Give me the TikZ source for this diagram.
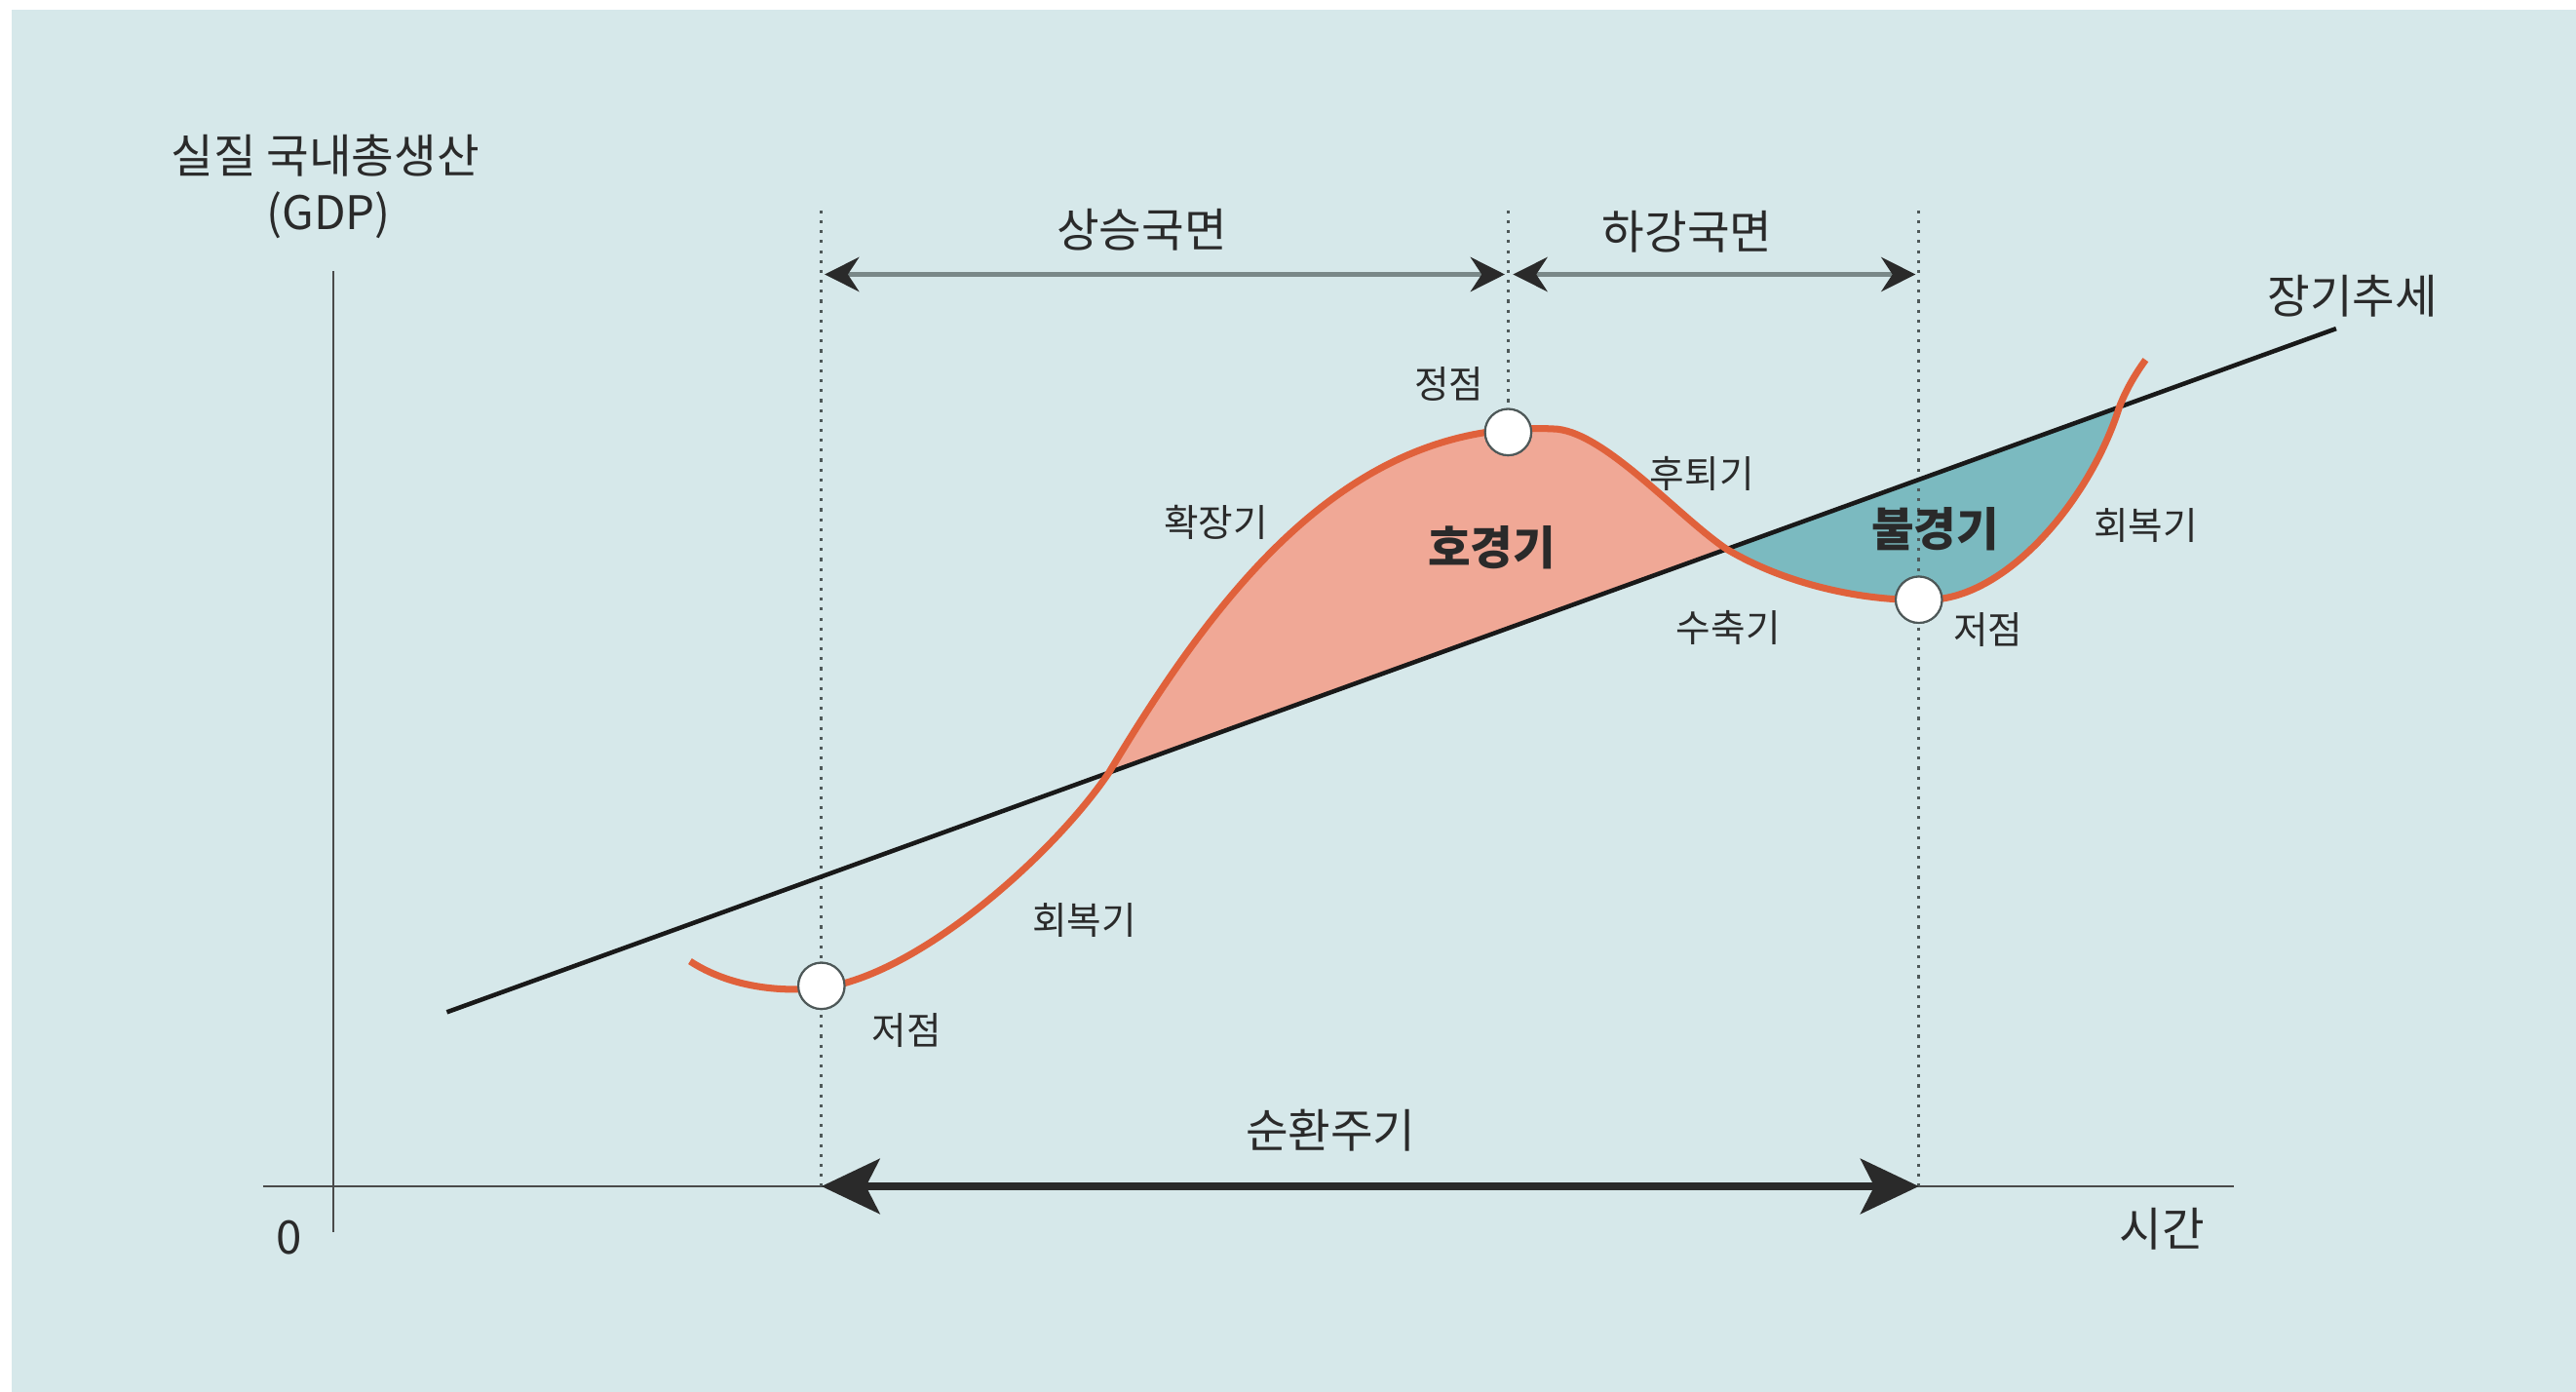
\documentclass[tikz,border=0pt]{standalone}
\usepackage{fontspec}
\setmainfont{Noto Sans CJK KR}
\usetikzlibrary{arrows.meta, positioning}
\definecolor{bcpanel}{HTML}{D6E8EA}
\definecolor{bcink}{HTML}{2A2A2A}
\definecolor{bcaxis}{HTML}{4A4A4A}
\definecolor{bcguide}{HTML}{4E5858}
\definecolor{bcspan}{HTML}{7A8888}
\definecolor{bccurve}{HTML}{E0613B}
\definecolor{bcboom}{HTML}{F0A896}
\definecolor{bcslump}{HTML}{7BBAC0}

\begin{document}
\begin{tikzpicture}[x=0.016856cm, y=-0.016856cm,
  every node/.style={font=\fontsize{11pt}{13pt}\selectfont, text=bcink, inner sep=1pt},
  title/.style={font=\fontsize{13.5pt}{16pt}\selectfont},
  boom/.style={font=\fontsize{13.5pt}{16pt}\selectfont\bfseries},
  axis/.style={draw=bcaxis, line width=0.7pt},
  guide/.style={draw=bcguide, dotted, line width=0.9pt},
  span/.style={{Stealth[length=10pt,width=10pt,color=bcink]}-{Stealth[length=10pt,width=10pt,color=bcink]},
               draw=bcspan, line width=1.6pt},
  period/.style={{Stealth[length=17pt,width=16pt,inset=4pt]}-{Stealth[length=17pt,width=16pt,inset=4pt]},
                 draw=bcink, line width=2.3pt},
  trend/.style={draw=black!90, line width=1.3pt},
  gdp/.style={draw=bccurve, line width=2pt},
  turn/.style={circle, draw=bcguide, fill=white, line width=0.6pt, minimum size=13.5pt, inner sep=0pt},
]

% panel
\fill[white] (0,0) rectangle (1568,847);
\fill[bcpanel] (7,6) rectangle (1568,847);
\useasboundingbox (0,0) rectangle (1568,847);

% knots of the curve
\coordinate (cstart) at (420,585);
\coordinate (ctr1)   at (490,602);
\coordinate (cx1)    at (675,470.2);
\coordinate (ctop)   at (945,261);
\coordinate (cx2)    at (1051,334.2);
\coordinate (ctr2)   at (1172,365);
\coordinate (cx3)    at (1290,247.8);
\coordinate (cend)   at (1306,219);

% trend line ends
\coordinate (tl) at (272,616);
\coordinate (tr) at (1422,200);

% boom and slump areas
\fill[bcboom] (cx1) .. controls (740,362) and (820,255) .. (ctop)
  .. controls (975,261) and (1021,314) .. (cx2) -- cycle;
\fill[bcslump] (cx2) .. controls (1091,358) and (1140,366) .. (ctr2)
  .. controls (1220,366) and (1272,305) .. (cx3) -- cycle;

% axes
\coordinate (yt) at (203,165);
\coordinate (yb) at (203,750);
\coordinate (xl) at (160,722);
\coordinate (xr) at (1360,722);
\draw[axis] (yb) -- (yt);
\draw[axis] (xl) -- (xr);

% guides
\coordinate (g1t) at (500,128);
\coordinate (g2t) at (918,128);
\coordinate (g3t) at (1168,128);
\coordinate (g1b) at (500,722);
\coordinate (g3b) at (1168,722);
\node[turn] (tr1) at (500,600) {};
\node[turn] (pk)  at (918,263) {};
\node[turn] (tr2) at (1168,365) {};
\draw[guide] (g1t) -- (g1b);
\draw[guide] (g2t) -- (pk.north);
\draw[guide] (g3t) -- (g3b);

% trend and curve
\draw[trend] (tl) -- (tr);
\draw[gdp] (cstart) .. controls (440,598) and (465,603) .. (ctr1)
  .. controls (550,602) and (640,522) .. (cx1)
  .. controls (740,362) and (820,255) .. (ctop)
  .. controls (975,261) and (1021,314) .. (cx2)
  .. controls (1091,358) and (1140,366) .. (ctr2)
  .. controls (1220,366) and (1272,305) .. (cx3)
  .. controls (1295,235) and (1301,226) .. (cend);
\node[turn] at (tr1) {};
\node[turn] at (pk) {};
\node[turn] at (tr2) {};

% spans
\coordinate (s1) at (502,167);
\coordinate (s2) at (916,167);
\coordinate (s3) at (921,167);
\coordinate (s4) at (1166,167);
\draw[span] (s1) -- (s2);
\draw[span] (s3) -- (s4);
\draw[period] (g1b) -- (g3b);

% labels
\node[title] (ylab) at (198,95)  {실질 국내총생산};
\node[title] (gdpl) at (200,131) {(GDP)};
\node[title] (up)   at (695,140) {상승국면};
\node[title] (down) at (1027,141) {하강국면};
\node[title] (lt)   at (1432,180) {장기추세};
\node[title] (cyc)  at (810,688) {순환주기};
\node[title] (zero) at (176,753) {0};
\node[title] (time) at (1316,748) {시간};
\node (peak)  at (882,234)  {정점};
\node (rec)   at (1036,288) {후퇴기};
\node (exp)   at (740,318)  {확장기};
\node (con)   at (1052,382) {수축기};
\node (low2)  at (1210,383) {저점};
\node (low1)  at (552,627)  {저점};
\node (rev1)  at (660,560)  {회복기};
\node (rev2)  at (1306,320) {회복기};
\node[boom] (good) at (908,333)  {호경기};
\node[boom] (bad)  at (1178,322) {불경기};

\end{tikzpicture}
\end{document}
